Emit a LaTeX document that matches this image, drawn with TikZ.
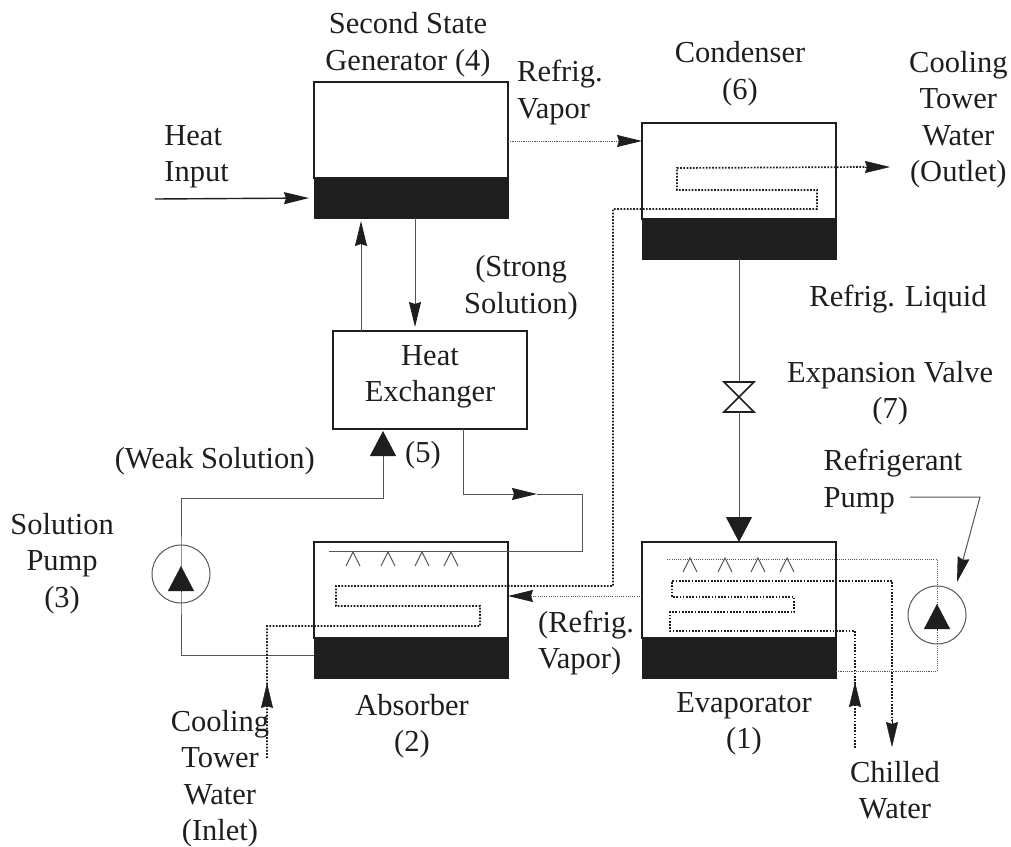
\documentclass[tikz,border=0pt]{standalone}
\usepackage{xcolor}
\usepackage{fontspec}
\setmainfont{Liberation Serif}
\usetikzlibrary{arrows.meta, positioning}
\definecolor{ink}{RGB}{30, 30, 30}
\definecolor{wire}{RGB}{85, 85, 85}

\begin{document}
\begin{tikzpicture}[
    x=1pt, y=1pt,
    tank/.style={rectangle, draw=ink, line width=2.4pt, minimum width=194pt, minimum height=96pt, inner sep=0pt, outer sep=0pt},
    sump/.style={rectangle, draw=ink, fill=ink, line width=0.5pt, minimum width=194pt, minimum height=40pt, inner sep=0pt, outer sep=0pt},
    hxbox/.style={rectangle, draw=ink, line width=1.6pt, minimum width=194pt, minimum height=98pt, inner sep=0pt, outer sep=0pt, align=center, text=ink, font=\fontsize{30.5}{36.5}\selectfont},
    pumpring/.style={circle, draw=wire, line width=1pt, minimum size=58pt, inner sep=0pt, outer sep=0pt},
    valvebox/.style={rectangle, minimum width=30pt, minimum height=30pt, inner sep=0pt, outer sep=0pt},
    lbl/.style={align=center, inner sep=0pt, text=ink, font=\fontsize{30.5}{36.5}\selectfont},
    pipe/.style={draw=wire, line width=1pt},
    coil/.style={draw=ink, line width=1.7pt, dash pattern=on 1.7pt off 1.5pt},
    vapor/.style={draw=wire, line width=1pt, dash pattern=on 1.1pt off 1.1pt},
    spray/.style={draw=wire, line width=1pt},
    slim/.style={-{Stealth[length=25pt, width=12pt, inset=2pt, color=ink, fill=ink]}},
    big/.style={-{Triangle[length=25pt, width=26pt, color=ink, fill=ink]}}
]
    \useasboundingbox (0,0) rectangle (1011,-846);
    \node[tank] (gen) at (411,-130) {};
    \node[sump, below=0pt of gen] (gensump) {};
    \node[tank, right=134pt of gen, yshift=-41pt] (cond) {};
    \node[sump, below=0pt of cond] (condsump) {};
    \node[hxbox, below=113pt of gensump, xshift=19pt] (hx) {Heat\\Exchanger\\[-24pt]\mbox{}};
    \node[tank, below=324pt of gensump] (abs) {};
    \node[sump, below=0pt of abs] (abssump) {};
    \node[tank, right=134pt of abs] (evap) {};
    \node[sump, below=0pt of evap] (evapsump) {};
    \node[valvebox, below=123pt of condsump] (valve) {};
    \node[pumpring, left=104pt of abs, yshift=16pt] (pumpl) {};
    \node[pumpring, right=72pt of evap, yshift=-25pt] (pumpr) {};

    \node[lbl, above=5pt of gen, xshift=-3pt] (genlabel) {Second State\\Generator (4)};
    \node[lbl, above=17pt of cond, xshift=1pt] (condlabel) {Condenser\\(6)};
    \node[lbl, right=73pt of cond, yshift=51.5pt] (outlabel) {Cooling\\Tower\\Water\\(Outlet)};
    \node[lbl, right=9pt of gen, yshift=37.5pt, align=left] (toplabel) {Refrig.\\Vapor};
    \node[lbl, left=85pt of gen, yshift=-27pt, align=left] (heatlabel) {Heat\\Input};
    \node[lbl, above=11pt of hx, xshift=91pt] (stronglabel) {(Strong\\Solution)};
    \node[lbl, below=26pt of condsump, xshift=159pt] (liquidlabel) {Refrig. Liquid};
    \node[lbl, right=33pt of valve, yshift=4pt] (valvelabel) {Expansion Valve\\(7)};
    \node[lbl, above=72pt of pumpr, xshift=-44pt, align=left] (rpumplabel) {Refrigerant\\Pump};
    \node[lbl, below=12pt of hx, xshift=-7pt] (hxnum) {(5)};
    \node[lbl, left=18pt of hx, yshift=-81pt] (weaklabel) {(Weak Solution)};
    \node[lbl, left=38pt of pumpl, yshift=10.5pt] (lpumplabel) {Solution\\Pump\\(3)};
    \node[lbl, right=30pt of abs, yshift=-53pt, align=left] (botlabel) {(Refrig.\\Vapor)};
    \node[lbl, below=16pt of abssump, xshift=1pt] (abslabel) {Absorber\\(2)};
    \node[lbl, below=14pt of evapsump, xshift=5pt] (evaplabel) {Evaporator\\(1)};
    \node[lbl, below=117pt of pumpr, xshift=-42pt] (chilllabel) {Chilled\\Water};
    \node[lbl, below=32pt of abssump, xshift=-191pt] (inlabel) {Cooling\\Tower\\Water\\(Inlet)};

    \coordinate (heatin) at (155,-199);
    \coordinate (condin) at ([yshift=30pt]cond.west);
    \coordinate (hxup) at ([xshift=-69pt]hx.north);
    \coordinate (hxdown) at ([xshift=-15pt]hx.north);
    \coordinate (hxin) at ([xshift=-47pt]hx.south);
    \coordinate (weakturn) at ([yshift=-69pt]hxin);
    \coordinate (strongtip) at (537,-494);
    \coordinate (cwin) at (267,-758);
    \coordinate (cwtip) at (267,-683);
    \coordinate (cwhead) at (866,-167);
    \coordinate (cwout) at (890,-167);
    \coordinate (chillin) at (855,-748);
    \coordinate (chilltip) at (855,-682);
    \coordinate (chillhead) at (892,-720);
    \coordinate (chillout) at (892,-747);
    \coordinate (sprayin) at (667,-559);
    \coordinate (lead) at (910,-497);
    \coordinate (leadtip) at (957,-582);

    \draw[ink, line width=1.4pt, slim, shorten >=5pt] (heatin) -- (gensump.west);
    \draw[vapor, slim] (gen.east |- condin) -- (condin);
    \draw[pipe, slim, shorten >=3pt] (hxup) -- (hxup |- gensump.south);
    \draw[pipe, slim, shorten >=4pt] (hxdown |- gensump.south) -- (hxdown);
    \draw[pipe, big, shorten >=2pt] ([yshift=3pt]abssump.west) -| (pumpl.center) |- (weakturn) -- (hxin);
    \draw[pipe, slim] ([xshift=33pt]hx.south) |- (strongtip);
    \draw[pipe] (strongtip) -- ++(45,0) -- ++(0,-57) -- ++(-253,0);
    \draw[vapor, slim] ([yshift=-6pt]evap.west) -- ([yshift=-6pt]abs.east);

    \draw[pipe] (condsump.south) -- (valve.north);
    \draw[ink, line width=1.6pt] (valve.north west) -- (valve.north east) -- (valve.south west) -- (valve.south east) -- cycle;
    \draw[pipe, big] (valve.south) -- (evap.north);

    \draw[vapor] ([yshift=-13pt]evapsump.east) -| (pumpr.center) |- (sprayin);
    \draw[pipe, slim] (lead) -- ++(70,0) -- (leadtip);

    \draw[coil] (cwin) -- (cwtip) -- ++(0,57) -- ++(213,0) -- ++(0,20) -- ++(-144,0) -- ++(0,20) -- ++(277,0) -- ++(0,377) -- ++(204,0) -- ++(0,19) -- ++(-140,0) -- ++(0,22) -- (cwhead);
    \draw[coil] (chillin) -- (chilltip) -- ++(0,51) -- ++(-185,0) -- ++(0,19) -- ++(124,0) -- ++(0,15) -- ++(-122,0) -- ++(0,16) -- ++(220,0) -- (chillhead);
    \draw[ink, slim] ([xshift=-1pt]cwhead) -- (cwout);
    \draw[ink, slim] ([yshift=1pt]chillhead) -- (chillout);
    \draw[ink, slim] ([yshift=-1pt]cwtip) -- (cwtip);
    \draw[ink, slim] ([yshift=-1pt]chilltip) -- (chilltip);

    \foreach \x in {353,388,422,451}
        \draw[spray] (\x-7,-566) -- (\x,-552) -- (\x+7,-566);
    \foreach \x in {690,725,758,787}
        \draw[spray] (\x-7,-572) -- (\x,-558) -- (\x+7,-572);

    \draw[ink, big] ([yshift=-17pt]pumpl.center) -- ([yshift=8pt]pumpl.center);
    \draw[ink, big] ([yshift=-14pt]pumpr.center) -- ([yshift=11pt]pumpr.center);
\end{tikzpicture}
\end{document}
